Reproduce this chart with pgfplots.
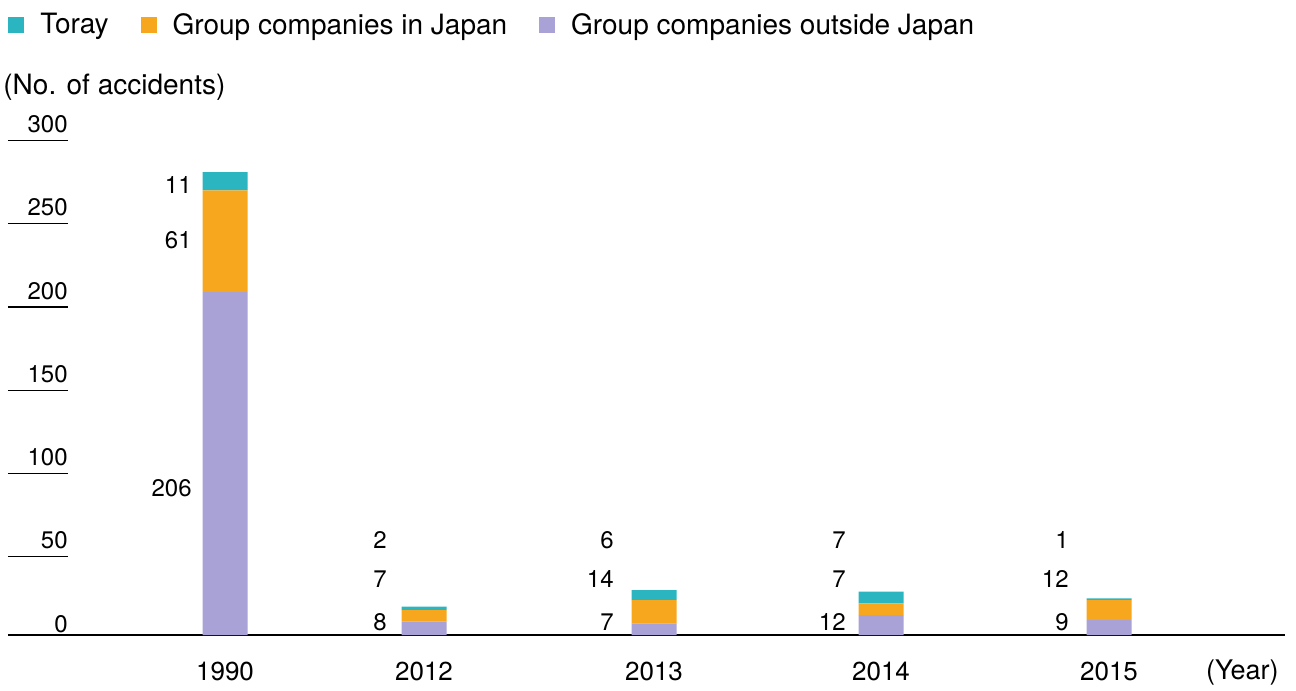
\documentclass[border=0pt]{standalone}
\usepackage{fontspec}
\setmainfont{TeX Gyre Heros}
\usepackage{pgfplots}
\pgfplotsset{compat=1.18}

\definecolor{toray}{RGB}{43,181,193}
\definecolor{japan}{RGB}{246,167,30}
\definecolor{outside}{RGB}{169,162,214}

\tikzset{val/.style={anchor=base east, inner sep=0pt}}

\begin{document}
\begin{tikzpicture}[font=\fontsize{12}{14}\selectfont]
\begin{axis}[
    scale only axis,
    width=638.5pt, height=249.75pt,
    xmin=8, xmax=1285,
    ymin=0, ymax=300,
    ybar stacked,
    bar width=22.5pt,
    axis x line=bottom,
    axis y line=left,
    x axis line style={-, line width=0.8pt},
    y axis line style={draw=none},
    tick align=inside,
    major tick length=30pt,
    xtick={225,424,654,881,1109},
    xticklabels={1990,2012,2013,2014,2015},
    xtick style={draw=none},
    xticklabel style={anchor=base, yshift=-22.5pt, inner sep=0pt, font=\fontsize{13}{15}\selectfont},
    ytick={50,100,...,300},
    ytick style={black, line width=0.6pt, yshift=-2.5pt},
    extra y ticks={0},
    extra y tick style={ytick style={draw=none}},
    yticklabel style={anchor=base east, xshift=30pt, yshift=1.5pt, inner sep=0pt},
    /pgf/number format/assume math mode=true,
    clip=false,
    legend columns=3,
    reverse legend,
    legend style={at={(axis description cs:0,1.221)}, anchor=west,
        draw=none, fill=none, inner sep=0pt, font=\fontsize{14}{16}\selectfont,
        /tikz/every odd column/.append style={column sep=6pt},
        /tikz/every even column/.append style={column sep=14pt}},
    legend image code/.code={\fill[#1] (0pt,-4pt) rectangle (8pt,4pt);},
]
\addplot[fill=outside, draw=none] coordinates {(225,206) (424,8) (654,7) (881,12) (1109,9)};
\addlegendentry{Group companies outside Japan}
\addplot[fill=japan, draw=none] coordinates {(225,61) (424,7) (654,14) (881,7) (1109,12)};
\addlegendentry{Group companies in Japan}
\addplot[fill=toray, draw=none] coordinates {(225,11) (424,2) (654,6) (881,7) (1109,1)};
\addlegendentry{Toray}

% value labels
\node[val] at (axis cs:192,265.2) {11};
\node[val] at (axis cs:192,232.4) {61};
\node[val] at (axis cs:192,83.2) {206};
\node[val] at (axis cs:387,52.0) {2};
\node[val] at (axis cs:387,28.5) {7};
\node[val] at (axis cs:387,2.7) {8};
\node[val] at (axis cs:614,52.0) {6};
\node[val] at (axis cs:614,28.5) {14};
\node[val] at (axis cs:614,2.7) {7};
\node[val] at (axis cs:846,52.0) {7};
\node[val] at (axis cs:846,28.5) {7};
\node[val] at (axis cs:846,2.7) {12};
\node[val] at (axis cs:1069,52.0) {1};
\node[val] at (axis cs:1069,28.5) {12};
\node[val] at (axis cs:1069,2.7) {9};
\node[anchor=base west, inner sep=0pt, font=\fontsize{14}{16}\selectfont] at (axis cs:3,324.9) {(No. of accidents)};
\node[anchor=base east, inner sep=0pt, font=\fontsize{13.5}{15}\selectfont] at (axis cs:1279,-27) {(Year)};

\coordinate (BL) at (axis cs:0,-33.03);
\coordinate (TR) at (axis cs:1296,381.4);
\end{axis}
\pgfresetboundingbox
\useasboundingbox (BL) rectangle (TR);
\end{tikzpicture}
\end{document}
